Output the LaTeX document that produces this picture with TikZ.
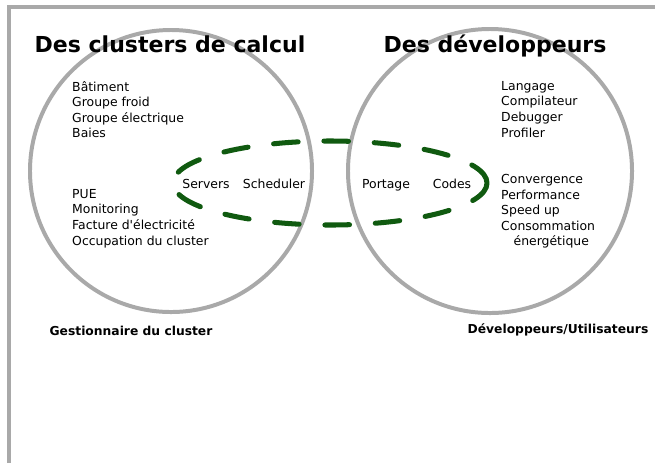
\documentclass[tikz,border=0pt]{standalone}
\usepackage{fontspec}
\setmainfont{DejaVu Sans}[Ligatures=TeXOff]
\definecolor{ringgray}{HTML}{A9A9A9}
\definecolor{loopgreen}{HTML}{105A10}
\begin{document}
\begin{tikzpicture}[x=0.03cm,y=-0.03cm,
  title/.style={font=\bfseries\fontsize{18.8}{22}\selectfont, anchor=base, inner sep=0},
  item/.style={font=\fontsize{10.6}{13.3}\selectfont, align=left, anchor=north west, inner sep=0},
  word/.style={font=\fontsize{10.6}{13.3}\selectfont, anchor=base, inner sep=0},
  role/.style={font=\bfseries\fontsize{10.5}{13.1}\selectfont, anchor=base, inner sep=0}]
\useasboundingbox (0,0) rectangle (655,463);
% Define the two circles and the dashed loop
\def\circleCluster{(171,171) circle (4.23cm)}
\def\circleDev{(490,171) circle (4.26cm)}
\def\loopShared{(330,183) ellipse (4.71cm and 1.26cm)}
% Frame along the left and top
\draw[ringgray, line width=3.4pt] (9,463) -- (9,7) -- (655,7);
% Outline the circles
\draw[ringgray, line width=3.4pt] \circleCluster;
\draw[ringgray, line width=3.4pt] \circleDev;
% Dashed loop over the overlap
\draw[loopgreen, line width=4.3pt, dash pattern=on 21pt off 22pt, line cap=round] \loopShared;
% Titles
\node[title] (titleCluster) at (170,52) {Des clusters de calcul};
\node[title] (titleDev) at (495,52) {Des développeurs};
% Lists inside the circles
\node[item] (infra) at (72,81) {Bâtiment\\Groupe froid\\Groupe électrique\\Baies};
\node[item] (metrics) at (72,189) {PUE\\Monitoring\\Facture d'électricité\\Occupation du cluster};
\node[item] (tools) at (501,81) {Langage\\Compilateur\\Debugger\\Profiler};
\node[item] (quality) at (501,174) {Convergence\\Performance\\Speed up\\Consommation\\\quad énergétique};
% Words inside the loop
\node[word] (servers) at (206,188) {Servers};
\node[word] (scheduler) at (274,188) {Scheduler};
\node[word] (portage) at (386,188) {Portage};
\node[word] (codes) at (452,188) {Codes};
% Roles under the circles
\node[role] (manager) at (131,335) {Gestionnaire du cluster};
\node[role] (users) at (558,333) {Développeurs/Utilisateurs};
\end{tikzpicture}
\end{document}
